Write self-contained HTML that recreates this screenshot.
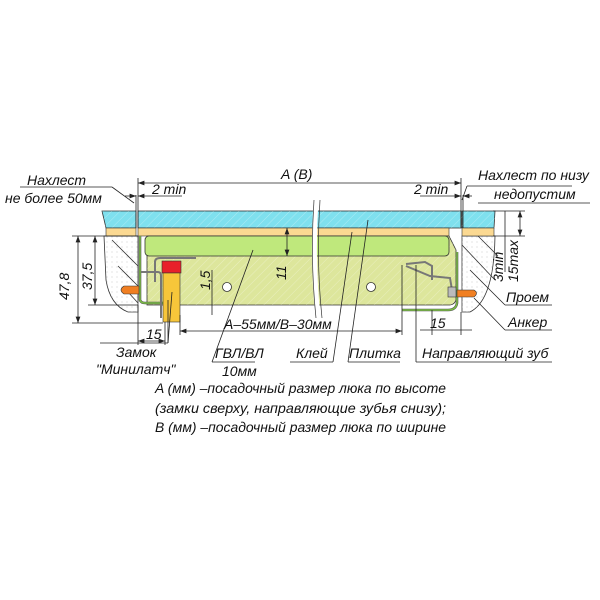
<!DOCTYPE html>
<html><head><meta charset="utf-8"><style>
html,body{margin:0;padding:0;background:#fff;width:600px;height:600px;overflow:hidden}
text{font-family:"Liberation Sans","DejaVu Sans",sans-serif;font-style:italic;fill:#111}
</style></head><body>
<svg width="600" height="600" viewBox="0 0 600 600" xmlns="http://www.w3.org/2000/svg">
<defs>
<pattern id="dots" width="5" height="5" patternUnits="userSpaceOnUse"><circle cx="2" cy="2" r="0.5" fill="#bbb"/></pattern>
<pattern id="hatch" width="6" height="6" patternUnits="userSpaceOnUse" patternTransform="rotate(45)"><line x1="0" y1="0" x2="0" y2="6" stroke="#fff" stroke-width="1" opacity="0.35"/></pattern>
<marker id="ar" markerWidth="8" markerHeight="6" refX="8" refY="3" orient="auto-start-reverse"><path d="M0 0 L8 3 L0 6 Z" fill="#222"/></marker>
</defs>
<path d="M104 236 L138 236 L138 312 L128 312 Q110 305 106 280 Z" fill="#fff" stroke="#333" stroke-width="0.8"/>
<path d="M104 236 L138 236 L138 312 L128 312 Q110 305 106 280 Z" fill="url(#dots)"/>
<path d="M462 236 L495 236 Q494 300 470 312 L462 312 Z" fill="#fff" stroke="#333" stroke-width="0.8"/>
<path d="M462 236 L495 236 Q494 300 470 312 L462 312 Z" fill="url(#dots)"/>
<g stroke="#333" stroke-width="0.8"><line x1="112" y1="240" x2="138" y2="266"/><line x1="118" y1="266" x2="138" y2="286"/><line x1="128" y1="292" x2="138" y2="303"/>
<line x1="462" y1="245" x2="495" y2="280"/><line x1="478" y1="236" x2="498" y2="256"/></g>
<path d="M102 211 L136 211 L136 228 L106 228 Z" fill="#7fe0ee" stroke="#333" stroke-width="0.8"/>
<rect x="138" y="211" width="323" height="17" fill="#7fe0ee" stroke="#333" stroke-width="0.8"/>
<path d="M462 211 L495 211 L494 228 L462 228 Z" fill="#7fe0ee" stroke="#333" stroke-width="0.8"/>
<rect x="102" y="211" width="395" height="17" fill="url(#hatch)"/>
<rect x="106" y="228" width="30" height="8" fill="#fbd992" stroke="#333" stroke-width="0.6"/>
<rect x="138" y="228" width="311" height="8" fill="#fbd992" stroke="#333" stroke-width="0.6"/>
<rect x="462" y="228" width="32" height="8" fill="#fbd992" stroke="#333" stroke-width="0.6"/>
<path d="M147 236 L449 236 L456 250 L456 298 Q456 304 450 305 L147 305 Z" fill="#dde69c" stroke="#333" stroke-width="0.8"/>
<rect x="147" y="236" width="309" height="69" fill="url(#hatch)"/>
<rect x="145" y="236" width="304" height="20" rx="4" fill="#bfe87c" stroke="#333" stroke-width="0.8"/>
<path d="M140 236 L140 300 Q141 303 145 303 L165 303" fill="none" stroke="#555" stroke-width="2.6"/>
<path d="M140 236 L140 300 Q141 303 145 303 L165 303" fill="none" stroke="#7bc043" stroke-width="1.4"/>
<path d="M457 252 L457 303 Q456 310 448 310 L402 310" fill="none" stroke="#555" stroke-width="2.6"/>
<path d="M457 252 L457 303 Q456 310 448 310 L402 310" fill="none" stroke="#7bc043" stroke-width="1.4"/>
<path d="M155 282 L155 262 Q155 258 160 258 L196 258" fill="none" stroke="#777" stroke-width="2"/>
<path d="M141 272 L158 272 Q161 272 161 276 L161 318" fill="none" stroke="#777" stroke-width="2"/>
<rect x="162" y="261" width="19" height="12" fill="#e8202a" stroke="#333" stroke-width="0.6"/>
<rect x="163" y="273" width="17" height="49" fill="#f7c63a" stroke="#333" stroke-width="0.6"/>
<path d="M139 286 L124 286 Q118 290 124 294 L139 294 Z" fill="#f07f22" stroke="#333" stroke-width="0.6"/>
<path d="M406 264 L425 262 L432 266 L432 280 M406 266 L430 276 L450 278 L452 290" fill="none" stroke="#777" stroke-width="2"/>
<rect x="448" y="287" width="8" height="10" fill="#bbb" stroke="#333" stroke-width="0.6"/>
<path d="M457 290 L474 290 Q479 293 474 297 L457 297 Z" fill="#f07f22" stroke="#333" stroke-width="0.6"/>
<circle cx="227" cy="287" r="4.5" fill="#fff" stroke="#333" stroke-width="0.8"/>
<circle cx="371" cy="287" r="4.5" fill="#fff" stroke="#333" stroke-width="0.8"/>
<path d="M316 200 Q312 260 318 318" fill="none" stroke="#fff" stroke-width="5"/>
<path d="M314 200 Q310 260 316 318 M320 200 Q316 260 322 318" fill="none" stroke="#333" stroke-width="0.7"/>
<g stroke="#222" stroke-width="0.8" fill="none">
<line x1="138" y1="183" x2="461" y2="183" marker-start="url(#ar)" marker-end="url(#ar)"/><line x1="138" y1="178" x2="138" y2="228"/><line x1="461" y1="178" x2="461" y2="228"/>
<line x1="20" y1="187" x2="112" y2="187"/><line x1="112" y1="187" x2="134" y2="203"/><line x1="125" y1="196" x2="136" y2="196" marker-end="url(#ar)"/><line x1="138" y1="196" x2="182" y2="196" marker-start="url(#ar)"/><line x1="420" y1="196" x2="461" y2="196" marker-end="url(#ar)"/><line x1="463" y1="196" x2="472" y2="196" marker-start="url(#ar)"/>
<line x1="136" y1="195" x2="136" y2="228"/><line x1="463" y1="195" x2="463" y2="228"/>
<line x1="467" y1="186" x2="572" y2="186"/><line x1="467" y1="186" x2="462" y2="200"/>
<line x1="478" y1="203" x2="590" y2="203"/>
<line x1="72" y1="236" x2="138" y2="236"/><line x1="72" y1="323" x2="163" y2="323"/><line x1="88" y1="305" x2="138" y2="305"/>
<line x1="78" y1="236" x2="78" y2="323" marker-start="url(#ar)" marker-end="url(#ar)"/><line x1="95" y1="236" x2="95" y2="305" marker-start="url(#ar)" marker-end="url(#ar)"/>
<line x1="287" y1="228" x2="287" y2="256" marker-start="url(#ar)" marker-end="url(#ar)"/><line x1="212" y1="270" x2="212" y2="315"/>
<line x1="493" y1="211" x2="525" y2="211"/><line x1="493" y1="236" x2="525" y2="236"/>
<line x1="505" y1="211" x2="505" y2="272"/><line x1="520" y1="211" x2="520" y2="236" marker-start="url(#ar)" marker-end="url(#ar)"/>
<line x1="138" y1="305" x2="138" y2="345"/><line x1="138" y1="341" x2="165" y2="341" marker-start="url(#ar)" marker-end="url(#ar)"/><line x1="165" y1="322" x2="165" y2="345"/>
<line x1="180" y1="331" x2="402" y2="331" marker-start="url(#ar)" marker-end="url(#ar)"/><line x1="180" y1="315" x2="180" y2="335"/><line x1="402" y1="265" x2="402" y2="335"/>
<line x1="420" y1="330" x2="472" y2="330"/><line x1="432" y1="310" x2="432" y2="335"/><line x1="461" y1="312" x2="461" y2="335"/>
<line x1="100" y1="343" x2="168" y2="343"/><line x1="168" y1="343" x2="168" y2="300"/><line x1="168" y1="343" x2="172" y2="292"/>
<line x1="212" y1="362" x2="255" y2="362"/><line x1="212" y1="362" x2="253" y2="250"/>
<line x1="290" y1="362" x2="333" y2="362"/><line x1="333" y1="362" x2="352" y2="232"/>
<line x1="348" y1="362" x2="400" y2="362"/><line x1="348" y1="362" x2="368" y2="220"/>
<line x1="416" y1="362" x2="552" y2="362"/><line x1="416" y1="362" x2="416" y2="265"/>
<line x1="505" y1="305" x2="552" y2="305"/><line x1="505" y1="305" x2="470" y2="270"/>
<line x1="505" y1="330" x2="552" y2="330"/><line x1="505" y1="330" x2="474" y2="298"/>
</g>
<g font-size="14">
<text x="27" y="185">Нахлест</text>
<text x="5" y="203">не более 50мм</text>
<text x="152" y="194">2 min</text>
<text x="281" y="179">A (B)</text>
<text x="414" y="194">2 min</text>
<text x="478" y="180">Нахлест по низу</text>
<text x="494" y="199">недопустим</text>
<text x="506" y="302">Проем</text>
<text x="508" y="327">Анкер</text>
<text x="422" y="358">Направляющий зуб</text>
<text x="146" y="339">15</text>
<text x="430" y="328">15</text>
<text x="224" y="329">A–55мм/B–30мм</text>
<text x="116" y="357">Замок</text>
<text x="96" y="374">"Минилатч"</text>
<text x="215" y="358">ГВЛ/ВЛ</text>
<text x="222" y="376">10мм</text>
<text x="296" y="358">Клей</text>
<text x="349" y="358">Плитка</text>
<text x="69" y="300" transform="rotate(-90 69 300)">47,8</text>
<text x="92" y="290" transform="rotate(-90 92 290)">37,5</text>
<text x="210" y="290" transform="rotate(-90 210 290)">1,5</text>
<text x="286" y="280" transform="rotate(-90 286 280)">11</text>
<text x="503" y="282" transform="rotate(-90 503 282)">3min</text>
<text x="518" y="282" transform="rotate(-90 518 282)">15max</text>
<text x="155" y="393" textLength="291" lengthAdjust="spacingAndGlyphs">A (мм) –посадочный размер люка по высоте</text>
<text x="155" y="413" textLength="291" lengthAdjust="spacingAndGlyphs">(замки сверху, направляющие зубья снизу);</text>
<text x="155" y="432" textLength="291" lengthAdjust="spacingAndGlyphs">B (мм) –посадочный размер люка по ширине</text>
</g>
</svg>
</body></html>
